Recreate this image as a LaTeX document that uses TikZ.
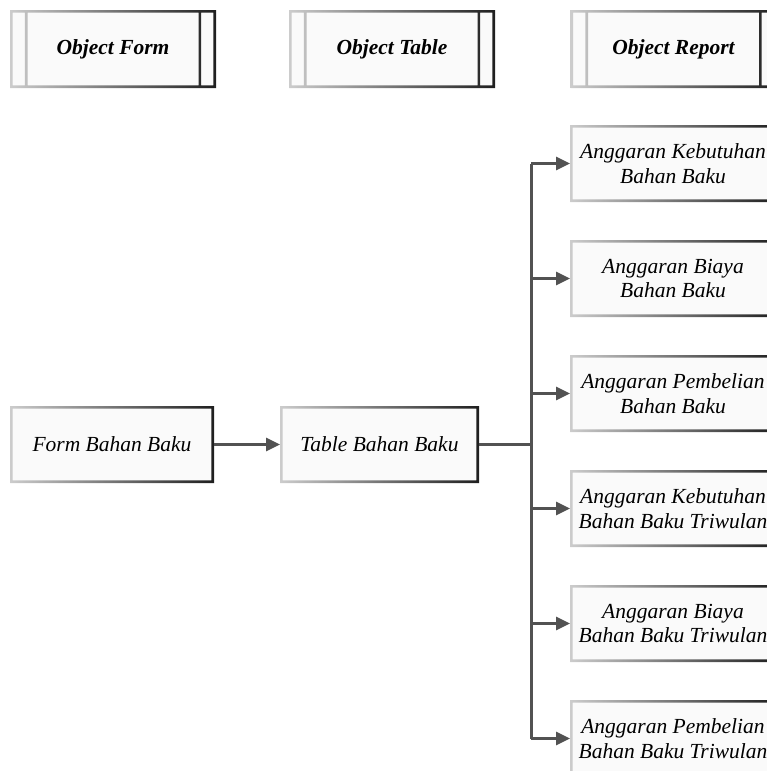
\documentclass[tikz,border=0pt]{standalone}
\usepackage{fontspec}
\setmainfont{Liberation Serif}
\usetikzlibrary{arrows.meta,calc}

% shaded border round a box
\newcommand{\gframe}[1]{%
  \shade[left color=black!20, right color=black!88, even odd rule]
    (#1.north west) rectangle (#1.south east)
    ($(#1.north west)+(1.35pt,-1.35pt)$) rectangle ($(#1.south east)+(-1.35pt,1.35pt)$);
}
% shaded border with the two inner bars of a header box
\newcommand{\hframe}[1]{%
  \shade[left color=black!20, right color=black!88, even odd rule]
    (#1.north west) rectangle (#1.south east)
    ($(#1.north west)+(1.35pt,-1.35pt)$) rectangle ($(#1.south east)+(-1.35pt,1.35pt)$)
    ($(#1.north west)+(7.4pt,-1.35pt)$) rectangle ($(#1.south west)+(8.75pt,1.35pt)$)
    ($(#1.north east)+(-8.75pt,-1.35pt)$) rectangle ($(#1.south east)+(-7.4pt,1.35pt)$);
}

\begin{document}
\begin{tikzpicture}[
    x=0.5pt, y=-0.5pt,
    box/.style={fill=white!98!black, inner sep=0pt, outer sep=0pt, minimum width=103pt, minimum height=38.5pt, align=center, font=\fontsize{10.75}{12.2}\selectfont\itshape},
    hdr/.style={box, minimum height=39pt, font=\fontsize{10.75}{12.2}\selectfont\bfseries\itshape},
    conn/.style={line width=1.5pt, black!68},
    arr/.style={conn, -{Triangle[length=7pt, width=6.5pt]}},
]
\useasboundingbox (0,0) rectangle (766,771);

% Header row
\node[hdr] (hdrForm) at (113,49) {Object Form};
\node[hdr] (hdrTable) at (392,49) {Object Table};
\node[hdr] (hdrReport) at (673.5,49) {Object Report};
\hframe{hdrForm}
\hframe{hdrTable}
\hframe{hdrReport}

% Form and table
\node[box, minimum width=102pt] (formBB) at (112,444.5) {Form Bahan Baku};
\node[box, minimum width=99.5pt] (tableBB) at (379.5,444.5) {Table Bahan Baku};
\gframe{formBB}
\gframe{tableBB}

% Reports
\node[box] (rep1) at (673,163.5) {Anggaran Kebutuhan\\Bahan Baku};
\node[box] (rep2) at (673,278.5) {Anggaran Biaya\\Bahan Baku};
\node[box] (rep3) at (673,393.5) {Anggaran Pembelian\\Bahan Baku};
\node[box] (rep4) at (673,508.5) {Anggaran Kebutuhan\\Bahan Baku Triwulan};
\node[box] (rep5) at (673,623.5) {Anggaran Biaya\\Bahan Baku Triwulan};
\node[box] (rep6) at (673,738.5) {Anggaran Pembelian\\Bahan Baku Triwulan};
\foreach \i in {1,...,6} {\gframe{rep\i}}

% Connectors
\coordinate (split) at (531,444.5);
\coordinate (trunkTop) at (split |- rep1);
\coordinate (trunkBot) at (split |- rep6);
\draw[arr] (formBB) -- (tableBB);
\draw[conn] (tableBB) -- (split);
\draw[conn] (trunkTop) -- (trunkBot);
\foreach \i in {1,...,6} {\draw[arr] (split |- rep\i) -- (rep\i);}

\end{tikzpicture}
\end{document}
